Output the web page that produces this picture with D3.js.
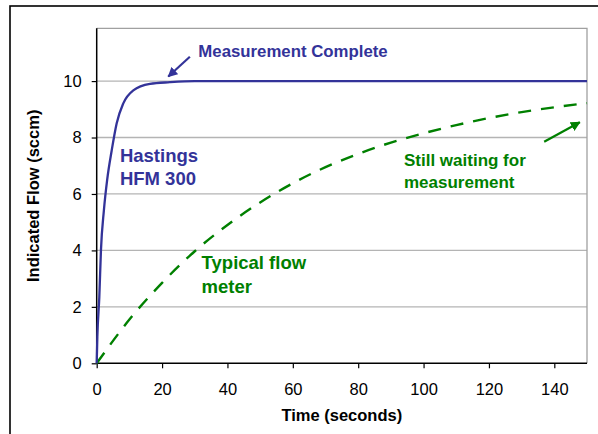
<!DOCTYPE html>
<html>
<head>
<meta charset="utf-8">
<title>Flow response</title>
<style>
  body { margin: 0; background: #fff; }
  text { font-family: Arial, "Liberation Sans", sans-serif; }
</style>
<script src="https://d3js.org/d3.v7.min.js"></script>
</head>
<body>
<svg id="chart" width="598" height="434"></svg>
<script>
// Hastings HFM 300 (time s, flow sccm)
var hastingsT = [0, 0.2, 0.8, 1.3, 2.2, 3.2, 4.6, 6.1, 8.1, 11.2, 16.3, 22.4, 30, 40, 60, 80, 100, 120, 150];
var hastingsV = [0, 0.94, 2.35, 4.0, 5.42, 6.5, 7.55, 8.5, 9.2, 9.67, 9.9, 9.96, 10, 10, 10, 10, 10, 10, 10];
// Typical flow meter
var typicalT = [0, 10, 20, 30, 40, 50, 60, 70, 80, 90, 100, 110, 120, 130, 140, 150];
var typicalV = [0, 1.55, 2.85, 3.97, 4.9, 5.7, 6.38, 6.95, 7.42, 7.82, 8.15, 8.44, 8.69, 8.9, 9.07, 9.22];

var xTicks = [0, 20, 40, 60, 80, 100, 120, 140];
var yTicks = [0, 2, 4, 6, 8, 10];

var notes = [
  { lines: ["Measurement Complete"], t: 31.1, v: 10.85, color: "#333399", size: 16.8 },
  { lines: ["Hastings", "HFM 300"], t: 7.1, v: 7.14, color: "#333399", size: 18.5 },
  { lines: ["Typical flow", "meter"], t: 32.1, v: 3.33, color: "#008000", size: 18.5 },
  { lines: ["Still waiting for", "measurement"], t: 94.0, v: 6.99, color: "#008000", size: 17 }
];
var arrows = [
  { t0: 28.5, v0: 10.86, t1: 21.9, v1: 10.16, color: "#333399", id: "ab" },
  { t0: 136.9, v0: 7.85, t1: 147.8, v1: 8.54, color: "#008000", id: "ag" }
];

(function() {
var svg = d3.select("#chart");
var pl = 96.7, pr = 587, pt = 28.3, pb = 363.3;

var x = d3.scaleLinear().domain([0, 150]).range([pl, pr]);
var y = d3.scaleLinear().domain([0, 11.87]).range([pb, pt]);

// outer frame
svg.append("rect").attr("x", 10).attr("y", 6).attr("width", 700).attr("height", 600)
  .attr("fill", "none").attr("stroke", "#000").attr("stroke-width", 1.6);

// gridlines
svg.append("g").selectAll("line").data(yTicks.slice(1)).join("line")
  .attr("x1", pl).attr("x2", pr)
  .attr("y1", d => y(d)).attr("y2", d => y(d))
  .attr("stroke", "#b4b4b4").attr("stroke-width", 1.3);

// plot border top / right
svg.append("path")
  .attr("d", "M" + pl + "," + pt + "H" + pr + "V" + pb)
  .attr("fill", "none").attr("stroke", "#a0a0a0").attr("stroke-width", 1.3);

// axes
var xAxis = svg.append("g").attr("transform", "translate(0," + pb + ")")
  .call(d3.axisBottom(x).tickValues(xTicks).tickSize(5).tickPadding(15).tickSizeOuter(0));
var yAxis = svg.append("g").attr("transform", "translate(" + pl + ",0)")
  .call(d3.axisLeft(y).tickValues(yTicks).tickSize(5).tickPadding(10).tickSizeOuter(0));
[xAxis, yAxis].forEach(function(a) {
  a.select(".domain").attr("stroke", "#000").attr("stroke-width", 1.5);
  a.selectAll(".tick line").attr("stroke", "#000").attr("stroke-width", 1.2);
  a.selectAll("text").attr("font-size", 16.5).attr("fill", "#000")
    .attr("font-family", "Arial, 'Liberation Sans', sans-serif");
});
xAxis.select(".domain").attr("d", "M" + pl + ",0H" + pr);
yAxis.select(".domain").attr("d", "M0," + pt + "V" + pb);

// axis titles
svg.append("text").attr("x", (pl + pr) / 2).attr("y", 421)
  .attr("text-anchor", "middle").attr("font-weight", "bold").attr("font-size", 16.5)
  .text("Time (seconds)");
svg.append("text").attr("transform", "translate(39," + ((pt + pb) / 2) + ") rotate(-90)")
  .attr("text-anchor", "middle").attr("font-weight", "bold").attr("font-size", 16.5)
  .text("Indicated Flow (sccm)");

// lines
var line = d3.line().x(d => x(d[0])).y(d => y(d[1])).curve(d3.curveMonotoneX);
svg.append("path").datum(typicalT.map((t, i) => [t, typicalV[i]]))
  .attr("d", line).attr("fill", "none").attr("stroke", "#008000")
  .attr("stroke-width", 2.4).attr("stroke-dasharray", "13,10");
svg.append("path").datum(hastingsT.map((t, i) => [t, hastingsV[i]]))
  .attr("d", line).attr("fill", "none").attr("stroke", "#333399")
  .attr("stroke-width", 2.3);

// arrows
var defs = svg.append("defs");
arrows.forEach(function(a) {
  defs.append("marker").attr("id", a.id).attr("viewBox", "0 0 10 10")
    .attr("refX", 9).attr("refY", 5).attr("markerWidth", 4.5).attr("markerHeight", 4.5)
    .attr("orient", "auto").attr("markerUnits", "strokeWidth")
    .append("path").attr("d", "M0,0L10,5L0,10z").attr("fill", a.color);
  svg.append("line")
    .attr("x1", x(a.t0)).attr("y1", y(a.v0)).attr("x2", x(a.t1)).attr("y2", y(a.v1))
    .attr("stroke", a.color).attr("stroke-width", 2.2)
    .attr("marker-end", "url(#" + a.id + ")");
});

// annotations
notes.forEach(function(n) {
  var t = svg.append("text").attr("x", x(n.t)).attr("y", y(n.v))
    .attr("fill", n.color).attr("font-weight", "bold").attr("font-size", n.size);
  n.lines.forEach(function(s, i) {
    t.append("tspan").attr("x", x(n.t)).attr("dy", i === 0 ? 0 : "1.27em").text(s);
  });
});
})();
</script>
</body>
</html>
